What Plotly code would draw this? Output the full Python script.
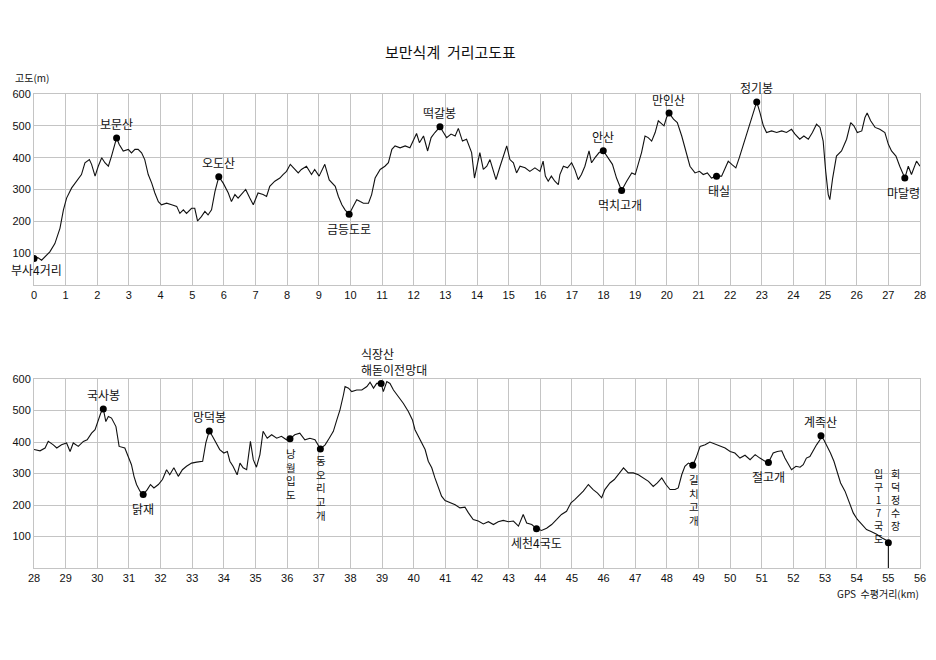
import plotly.graph_objects as go

# ---------------- data ----------------
top_km = [0.0, 0.12, 0.24, 0.35, 0.5, 0.66, 0.82, 0.93, 1.03, 1.19, 1.35, 1.5, 1.61, 1.75, 1.82, 1.93,
          2.03, 2.14, 2.24, 2.35, 2.45, 2.53, 2.61, 2.69, 2.82, 2.98, 3.08, 3.19, 3.29, 3.4, 3.5, 3.61,
          3.72, 3.82, 3.93, 4.03, 4.19, 4.35, 4.51, 4.61, 4.72, 4.82, 4.98, 5.08, 5.17, 5.29, 5.4, 5.5,
          5.61, 5.72, 5.84, 5.98, 6.14, 6.24, 6.35, 6.45, 6.56, 6.69, 6.82, 6.93, 7.08, 7.24, 7.35, 7.45,
          7.61, 7.77, 7.87, 7.98, 8.1, 8.24, 8.35, 8.45, 8.61, 8.77, 8.87, 9.01, 9.19, 9.33, 9.52, 9.62,
          9.73, 9.83, 9.96, 10.09, 10.2, 10.31, 10.41, 10.57, 10.67, 10.78, 10.94, 11.09, 11.2, 11.31,
          11.41, 11.57, 11.73, 11.88, 11.99, 12.09, 12.18, 12.31, 12.44, 12.55, 12.67, 12.83, 12.94,
          13.04, 13.18, 13.31, 13.41, 13.54, 13.67, 13.83, 13.92, 14.03, 14.09, 14.2, 14.31, 14.41,
          14.52, 14.6, 14.73, 14.84, 14.94, 15.04, 15.15, 15.25, 15.36, 15.52, 15.67, 15.83, 15.99,
          16.09, 16.16, 16.25, 16.35, 16.46, 16.57, 16.62, 16.73, 16.86, 16.99, 17.09, 17.2, 17.3,
          17.41, 17.54, 17.62, 17.73, 17.86, 17.99, 18.15, 18.28, 18.41, 18.57, 18.73, 18.89, 19.0,
          19.1, 19.2, 19.31, 19.41, 19.52, 19.63, 19.73, 19.84, 19.91, 19.99, 20.07, 20.21, 20.33,
          20.47, 20.61, 20.73, 20.89, 21.03, 21.15, 21.28, 21.41, 21.57, 21.73, 21.87, 21.94, 22.05,
          22.18, 22.29, 22.41, 22.52, 22.65, 22.76, 22.84, 22.94, 23.05, 23.15, 23.31, 23.47, 23.63,
          23.78, 23.94, 24.05, 24.2, 24.33, 24.47, 24.6, 24.73, 24.84, 24.94, 25.02, 25.1, 25.15,
          25.24, 25.36, 25.52, 25.68, 25.81, 25.91, 26.02, 26.16, 26.26, 26.33, 26.44, 26.58, 26.73,
          26.89, 27.0, 27.1, 27.24, 27.36, 27.45, 27.52, 27.63, 27.73, 27.89, 28.0]
top_elev = [83, 86, 78, 88, 104, 130, 178, 236, 273, 305, 326, 347, 384, 394, 379, 342,
            373, 400, 384, 373, 405, 431, 462, 442, 421, 426, 415, 426, 426, 415, 394, 347,
            320, 289, 262, 252, 257, 252, 247, 225, 236, 225, 241, 241, 201, 215, 231, 220,
            236, 294, 340, 320, 289, 262, 284, 273, 284, 300, 273, 252, 289, 284, 278, 310,
            326, 336, 347, 357, 379, 363, 352, 363, 373, 347, 363, 342, 379, 330, 310, 278,
            252, 236, 222, 247, 268, 262, 257, 257, 284, 336, 363, 373, 384, 426,
            437, 431, 437, 431, 452, 476, 447, 468, 421, 463, 479, 497, 479,
            463, 474, 468, 492, 452, 458, 416, 336, 394, 416, 363, 373, 394,
            357, 331, 373, 405, 437, 394, 384, 352, 373, 368, 357, 368, 357,
            389, 342, 326, 342, 326, 315, 347, 373, 368, 384, 363, 331, 347,
            373, 421, 384, 400, 416, 422, 400, 379, 336, 297, 326, 352, 347,
            379, 416, 468, 463, 452, 479, 516, 505, 500, 526, 540, 521, 510,
            468, 421, 373, 352, 357, 347, 352, 336, 342, 342, 373, 389, 379,
            368, 400, 437, 474, 510, 548, 575, 542, 500, 479, 484, 479, 484,
            479, 489, 474, 458, 468, 458, 479, 505, 495, 452, 357, 284, 268,
            336, 405, 421, 458, 510, 500, 479, 484, 526, 540, 516, 495, 489,
            479, 442, 421, 405, 373, 352, 336, 373, 347, 389, 373]

bot_km = [28.0, 28.19, 28.35, 28.45, 28.61, 28.72, 28.87, 29.03, 29.14, 29.24, 29.4, 29.56, 29.68,
          29.82, 29.93, 30.03, 30.11, 30.19, 30.27, 30.35, 30.45, 30.59, 30.69, 30.87, 31.01, 31.08,
          31.16, 31.24, 31.35, 31.45, 31.58, 31.68, 31.79, 31.93, 32.06, 32.19, 32.29, 32.42, 32.56,
          32.69, 32.82, 32.98, 33.14, 33.33, 33.43, 33.54, 33.64, 33.75, 33.87, 34.0, 34.11, 34.19,
          34.29, 34.42, 34.51, 34.61, 34.72, 34.84, 34.93, 35.03, 35.14, 35.24, 35.37, 35.51, 35.67,
          35.82, 35.98, 36.09, 36.24, 36.4, 36.56, 36.72, 36.88, 37.05, 37.2, 37.33, 37.46, 37.57,
          37.67, 37.78, 37.83, 37.94, 38.04, 38.2, 38.36, 38.52, 38.62, 38.73, 38.83, 38.97, 39.04,
          39.15, 39.25, 39.36, 39.52, 39.67, 39.83, 39.96, 40.04, 40.15, 40.25, 40.36, 40.46, 40.57,
          40.67, 40.78, 40.88, 40.99, 41.15, 41.31, 41.46, 41.62, 41.73, 41.88, 42.04, 42.2, 42.36,
          42.52, 42.67, 42.83, 42.99, 43.15, 43.31, 43.46, 43.57, 43.73, 43.88, 44.04, 44.2, 44.36,
          44.52, 44.67, 44.83, 44.97, 45.09, 45.2, 45.36, 45.52, 45.67, 45.81, 45.94, 46.04, 46.2,
          46.34, 46.46, 46.63, 46.78, 46.94, 47.1, 47.26, 47.42, 47.57, 47.7, 47.84, 47.97, 48.1,
          48.26, 48.36, 48.47, 48.57, 48.68, 48.82, 48.92, 49.05, 49.21, 49.36, 49.52, 49.68, 49.84,
          50.0, 50.15, 50.31, 50.47, 50.63, 50.79, 50.94, 51.1, 51.21, 51.36, 51.49, 51.63, 51.73,
          51.84, 51.94, 52.08, 52.21, 52.31, 52.41, 52.52, 52.63, 52.73, 52.84, 52.87, 52.96, 53.07,
          53.17, 53.28, 53.38, 53.49, 53.63, 53.76, 53.89, 54.02, 54.15, 54.31, 54.47, 54.63, 54.79,
          54.92, 55.0, 55.0]
bot_elev = [376, 372, 381, 402, 391, 381, 391, 397, 370, 397, 386, 402, 407,
            428, 439, 465, 492, 505, 465, 481, 476, 449, 386, 381, 344, 328,
            291, 265, 244, 233, 249, 265, 254, 265, 281, 312, 296, 318, 291,
            312, 323, 333, 336, 339, 397, 435, 418, 397, 376, 365, 370, 339,
            323, 296, 333, 318, 312, 402, 344, 320, 360, 434, 412, 423, 412,
            418, 407, 410, 423, 428, 407, 412, 407, 378, 391, 412, 434, 470,
            502, 550, 576, 571, 560, 565, 565, 576, 590, 571, 586, 586, 560,
            592, 586, 565, 544, 523, 497, 470, 439, 418, 397, 376, 339, 318,
            286, 254, 228, 214, 207, 201, 191, 193, 175, 154, 149, 140, 147,
            138, 147, 151, 147, 149, 133, 170, 143, 138, 125, 119, 126, 138,
            154, 170, 180, 207, 217, 228, 244, 265, 249, 238, 223, 249, 270,
            281, 296, 318, 302, 302, 296, 286, 275, 259, 270, 286, 265, 249,
            249, 254, 296, 323, 333, 326, 349, 386, 391, 400, 393, 386, 381,
            370, 365, 349, 358, 344, 360, 349, 339, 335, 365, 370, 372, 349,
            328, 312, 323, 320, 328, 349, 354, 376, 391, 407, 420, 407, 386,
            365, 339, 302, 270, 244, 212, 175, 154, 138, 122, 115, 107, 96,
            89, 80, 0]

top_pt_names = ["부사4거리", "보문산", "오도산", "금등도로", "떡갈봉", "안산", "먹치고개",
                "만인산", "태실", "정기봉", "마달령"]
top_pt_km = [0.0, 2.61, 5.84, 9.96, 12.83, 17.99, 18.57, 20.07, 21.57, 22.84, 27.52]
top_pt_elev = [83, 462, 340, 222, 497, 422, 297, 540, 342, 575, 336]

bot_pt_names = ["국사봉", "닭재", "망덕봉", "낭월입도", "동오리고개", "식장산<br>해돋이전망대",
                "세천4국도", "길치고개", "절고개", "계족산", "회덕정수장"]
bot_pt_km = [30.19, 31.45, 33.54, 36.09, 37.05, 38.97, 43.88, 48.82, 51.21, 52.87, 55.0]
bot_pt_elev = [505, 233, 435, 410, 378, 586, 125, 326, 335, 420, 80]
end_note = "입구17국도"

top_ticks = list(range(0, 29))
bot_ticks = list(range(28, 57))
y_ticks = [100, 200, 300, 400, 500, 600]

title_text = "보만식계&nbsp;&nbsp;거리고도표"
y_title = "고도(m)"
x_title = "GPS&nbsp; 수평거리(km)"

# ---------------- styles / geometry ----------------
FONT_K = "Noto Sans CJK KR"
FONT_T = "Liberation Sans, Arial, sans-serif"
GRID = "#c4c4c4"
# page body adds an 8px offset; figure sized to fit inside the window
W, H = 920, 644
L, R, T, B = 26, 8, 86, 84
PW, PH = W - L - R, H - T - B


def paper_x(sx):
    return (sx - 8 - L) / PW


def paper_y(sy):
    return (H - B - (sy - 8)) / PH


fig = go.Figure()
fig.add_trace(go.Scatter(x=top_km, y=top_elev, mode="lines", xaxis="x", yaxis="y",
                         line=dict(color="#111111", width=1.1), hoverinfo="skip"))
fig.add_trace(go.Scatter(x=bot_km, y=bot_elev, mode="lines", xaxis="x2", yaxis="y2",
                         line=dict(color="#111111", width=1.1), hoverinfo="skip"))
fig.add_trace(go.Scatter(x=top_pt_km, y=top_pt_elev, mode="markers", xaxis="x", yaxis="y",
                         marker=dict(color="black", size=7), hoverinfo="skip"))
fig.add_trace(go.Scatter(x=bot_pt_km, y=bot_pt_elev, mode="markers", xaxis="x2", yaxis="y2",
                         marker=dict(color="black", size=7), hoverinfo="skip"))

ann = []
lab_font = dict(family=FONT_K, size=12, color="#111111")

top_place = ["below", "above", "above", "below", "above", "above", "below",
             "above", "below", "above", "below"]
top_xs = [2, 0, 0, 0, 0, 0, -2, -1, 2, 0, -1]
for i, name in enumerate(top_pt_names):
    ys = 14 if top_place[i] == "above" else -14
    if i == 0:
        ys = -11
    ann.append(dict(x=top_pt_km[i], y=top_pt_elev[i], xref="x", yref="y", text=name,
                    showarrow=False, yshift=ys, xshift=top_xs[i], yanchor="middle", font=lab_font))


def vertical(text, km, elev, yshift, xshift=0, size=10.5):
    ann.append(dict(x=km, y=elev, xref="x2", yref="y2", text="<br>".join(text),
                    showarrow=False, yshift=yshift, xshift=xshift, yanchor="top",
                    align="center", borderpad=0,
                    font=dict(family=FONT_K, size=size, color="#111111")))


for i, name in enumerate(bot_pt_names):
    km, el = bot_pt_km[i], bot_pt_elev[i]
    if name in ("국사봉", "망덕봉", "계족산"):
        ann.append(dict(x=km, y=el, xref="x2", yref="y2", text=name, showarrow=False,
                        yshift=14, yanchor="middle", font=lab_font))
    elif name in ("닭재", "세천4국도", "절고개"):
        ann.append(dict(x=km, y=el, xref="x2", yref="y2", text=name, showarrow=False,
                        yshift=-14, yanchor="middle", font=lab_font))
    elif name.startswith("식장산"):
        ann.append(dict(x=km, y=el, xref="x2", yref="y2", text=name, showarrow=False,
                        xanchor="left", align="left", yanchor="bottom", yshift=3, xshift=-22,
                        font=lab_font))
    elif name == "회덕정수장":
        vertical(name, km, el, 78, xshift=7, size=10)
        vertical(end_note, km, el, 78, xshift=-10, size=10)
    elif name == "동오리고개":
        vertical(name, km, el, -3, xshift=1)
    else:
        vertical(name, km, el, -6, xshift=1)

ann.append(dict(x=paper_x(450), y=paper_y(52), xref="paper", yref="paper", text=title_text,
                xanchor="center", yanchor="middle", showarrow=False,
                font=dict(family=FONT_K, size=15, color="#111111")))
ann.append(dict(x=paper_x(32), y=paper_y(78), xref="paper", yref="paper", text=y_title,
                xanchor="center", yanchor="middle", showarrow=False,
                font=dict(family=FONT_K, size=10, color="#111111")))
ann.append(dict(x=paper_x(921), y=paper_y(593), xref="paper", yref="paper", text=x_title,
                xanchor="right", yanchor="middle", showarrow=False,
                font=dict(family=FONT_K, size=10, color="#111111")))

axis_common = dict(showgrid=True, gridcolor=GRID, gridwidth=1, showline=True, linecolor=GRID,
                   linewidth=1, mirror=True, zeroline=False, ticks="", automargin=False,
                   tickfont=dict(family=FONT_T, size=11, color="#111111"))

top_lo = (H - B - (285 - 8)) / PH
bot_hi = (H - B - (379 - 8)) / PH

fig.update_layout(
    width=W, height=H,
    margin=dict(l=L, r=R, t=T, b=B, autoexpand=False),
    paper_bgcolor="white", plot_bgcolor="white",
    showlegend=False,
    xaxis=dict(domain=[0, 1], anchor="y", range=[0, 28], tickvals=top_ticks, **axis_common),
    yaxis=dict(domain=[top_lo, 1.0], anchor="x", range=[0, 600], tickvals=y_ticks, **axis_common),
    xaxis2=dict(domain=[0, 1], anchor="y2", range=[28, 56], tickvals=bot_ticks, **axis_common),
    yaxis2=dict(domain=[0.0, bot_hi], anchor="x2", range=[0, 600], tickvals=y_ticks, **axis_common),
    annotations=ann,
)

fig.write_html("out.html")
